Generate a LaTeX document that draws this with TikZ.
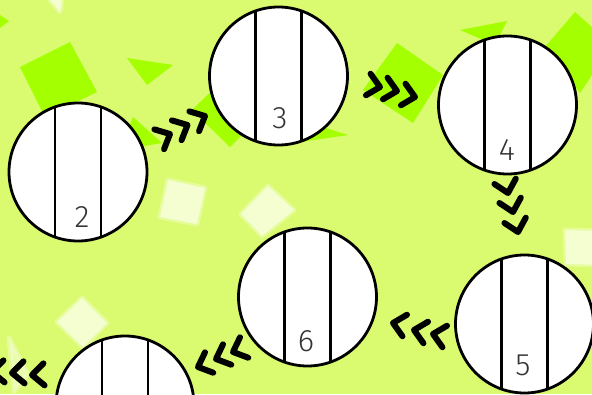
\documentclass[tikz,border=0pt]{standalone}
\usepackage{fontspec}
\newfontfamily\numfont{Fira Sans Light}
\usetikzlibrary{calc}
\definecolor{bgc}{RGB}{218,250,112}
\definecolor{lime}{RGB}{164,255,0}
\definecolor{pale}{RGB}{246,255,214}
\tikzset{
 circ/.style={circle, draw=black, line width=2.8pt, fill=white, minimum size=138pt, inner sep=0pt},
 stripe/.style={line width=2.4pt, draw=black},
 num/.style={font=\numfont\fontsize{31}{31}\selectfont, text=black!80, inner sep=0pt},
 chevline/.style={line width=6pt, line cap=round, line join=round, draw=black},
 chev/.pic={\draw[chevline] (-12,-11) -- (0,0) -- (-12,11);},
 limeshape/.style={fill=lime},
 paleshape/.style={fill=pale, draw=pale, draw opacity=0.4, line width=5pt, line join=round, fill opacity=0.95},
}
\begin{document}
\begin{tikzpicture}[x=1pt,y=-1pt]
\useasboundingbox (0,0) rectangle (592,394);
\clip (0,0) rectangle (592,394);
\fill[bgc] (0,0) rectangle (592,394);
% lime shapes
\fill[limeshape] (20,67) -- (70,42) -- (97,92) -- (45,117) -- cycle;
\fill[limeshape] (127,58) -- (173,65) -- (147,85) -- cycle;
\fill[limeshape] (0,15) -- (9,21) -- (0,28) -- cycle;
\fill[limeshape] (133,117) -- (162,143) -- (120,150) -- cycle;
\fill[limeshape] (192,110) -- (225,78) -- (262,115) -- (230,147) -- cycle;
\fill[limeshape] (300,120) -- (348,135) -- (300,142) -- cycle;
\fill[limeshape] (397,43) -- (443,75) -- (413,123) -- (363,90) -- cycle;
\fill[limeshape] (460,30) -- (507,21) -- (495,45) -- cycle;
\fill[limeshape] (575,12) -- (612,45) -- (580,93) -- (545,47) -- cycle;
% pale shapes
\filldraw[paleshape] (50,0) -- (62,0) -- (60,12) -- cycle;
\filldraw[paleshape] (168,180) -- (205,188) -- (197,224) -- (160,217) -- cycle;
\filldraw[paleshape] (268,186) -- (294,210) -- (262,236) -- (241,214) -- cycle;
\filldraw[paleshape] (82,298) -- (107,323) -- (83,347) -- (57,322) -- cycle;
\filldraw[paleshape, fill opacity=0.6] (9,338) -- (28,374) -- (14,392) -- cycle;
\filldraw[paleshape] (565,230) -- (600,231) -- (600,265) -- (566,264) -- cycle;
% circles
\foreach \n/\x/\y in {2/78/172, 3/278.5/76, 4/507.5/105, 5/524.5/324, 6/307.5/297, 7/125/405}{
  \node[circ] (c\n) at (\x,\y) {};
  \draw[stripe] ($(c\n.center)+(-23,-65)$) -- ($(c\n.center)+(-23,65)$);
  \draw[stripe] ($(c\n.center)+(23,-65)$) -- ($(c\n.center)+(23,65)$);
}
\node[num] (n2) at (82,217) {2};
\node[num] (n3) at (280,118) {3};
\node[num] (n4) at (507,150) {4};
\node[num] (n5) at (523,365) {5};
\node[num] (n6) at (306,341) {6};
% chevrons
\foreach \x/\y in {170/134, 187.5/125, 205/116} \pic[rotate=26] at (\x,\y) {chev};
\foreach \x/\y in {380/87, 397/91, 415/97} \pic[rotate=-12] at (\x,\y) {chev};
\foreach \x/\y in {508/193, 513/212, 518/232} \pic[rotate=-76] at (\x,\y) {chev};
\foreach \x/\y in {393/323, 414/330, 433/334} \pic[rotate=168] at (\x,\y) {chev};
\foreach \x/\y in {198/367, 216/359, 233/352} \pic[rotate=202] at (\x,\y) {chev};
\foreach \x/\y in {-8/372, 12/373, 32/375} \pic[rotate=183] at (\x,\y) {chev};
\end{tikzpicture}
\end{document}
